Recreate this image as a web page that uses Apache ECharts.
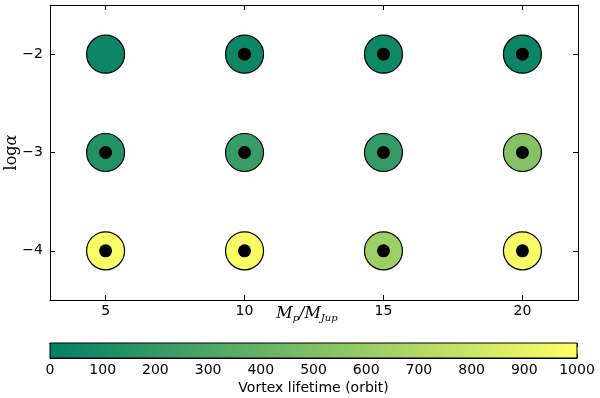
<!DOCTYPE html>
<html><head><meta charset="utf-8">
<script src="https://cdn.jsdelivr.net/npm/echarts@6/dist/echarts.min.js"></script>
<style>html,body{margin:0;padding:0;background:#fff}#c{width:600px;height:398px}</style>
</head><body><div id="c"></div>
<script>
const masses = [5, 10, 15, 20];
const logAlphas = [-2, -3, -4];
// lifetime (orbits) rows by logAlpha, columns by mass
const lifetimeAm2 = [40, 50, 60, 40];
const lifetimeAm3 = [130, 220, 200, 520];
const lifetimeAm4 = [980, 980, 620, 970];
// black dot marker present?
const dotAm2 = [0, 1, 1, 1];
const dotAm3 = [1, 1, 1, 1];
const dotAm4 = [1, 1, 1, 1];
const cbTicks = [0,100,200,300,400,500,600,700,800,900,1000];

const lifetimes = [lifetimeAm2, lifetimeAm3, lifetimeAm4];
const dots = [dotAm2, dotAm3, dotAm4];
const circles = [], dotPts = [];
logAlphas.forEach((a, i) => masses.forEach((m, j) => {
  circles.push([m, a, lifetimes[i][j]]);
  if (dots[i][j]) dotPts.push([m, a]);
}));

const font = 'DejaVu Sans';
const lab = {color:'#000', fontFamily:font, fontSize:14};
const tickIn = {show:true, inside:true, length:5, lineStyle:{color:'#000', width:1}};
const line = {show:true, onZero:false, lineStyle:{color:'#000', width:1}};

const chart = echarts.init(document.getElementById('c'), null, {renderer:'canvas'});
chart.setOption({
  animation:false,
  backgroundColor:'#fff',
  grid:[
    {left:50, right:22, top:5, bottom:98, show:false, outerBoundsMode:'none', containLabel:false},
    {left:50, right:23, top:343, height:15, show:false, outerBoundsMode:'none', containLabel:false}
  ],
  xAxis:[
    {gridIndex:0, type:'value', min:3, max:22, interval:5, position:'bottom',
     axisLine:line, splitLine:{show:false},
     axisLabel:Object.assign({margin:4, customValues:masses}, lab),
     axisTick:Object.assign({customValues:masses}, tickIn),
     name:'{i|M}{s|p}{i|/M}{s|Jup}', nameLocation:'middle', nameGap:4, nameMoveOverlap:false,
     nameTextStyle:{verticalAlign:'top', padding:[0,14,0,0], rich:{i:{fontFamily:'DejaVu Serif', fontStyle:'italic', fontSize:16, color:'#000'},
                          s:{fontFamily:'DejaVu Serif', fontStyle:'italic', fontSize:10, color:'#000', padding:[9,0,0,0]}}}},
    {gridIndex:0, type:'value', min:3, max:22, position:'top',
     axisLine:line, axisTick:Object.assign({customValues:masses}, tickIn),
     axisLabel:{show:false}, splitLine:{show:false}},
    {gridIndex:1, type:'value', min:0, max:1000, interval:100, position:'bottom',
     axisLine:line, axisTick:Object.assign({}, tickIn, {length:4}), splitLine:{show:false},
     axisLabel:Object.assign({margin:5, formatter:v=>String(v)}, lab),
     name:'Vortex lifetime (orbit)', nameLocation:'middle', nameGap:23, nameMoveOverlap:false,
     nameTextStyle:{color:'#000', fontFamily:font, fontSize:14}},
    {gridIndex:1, type:'value', min:0, max:1000, interval:100, position:'top',
     axisLine:line, axisTick:Object.assign({}, tickIn, {length:4}), axisLabel:{show:false}, splitLine:{show:false}}
  ],
  yAxis:[
    {gridIndex:0, type:'value', min:-4.5, max:-1.5, position:'left',
     axisLine:line, splitLine:{show:false},
     axisTick:Object.assign({customValues:logAlphas}, tickIn),
     axisLabel:Object.assign({margin:7, customValues:logAlphas, formatter:v=>String(v).replace('-','\u2212')}, lab),
     name:'{i|log}{g|α}', nameLocation:'middle', nameGap:30, nameRotate:90, nameMoveOverlap:false,
     nameTextStyle:{rich:{i:{fontFamily:'DejaVu Serif', fontSize:16, color:'#000'},
                          g:{fontFamily:'DejaVu Serif', fontStyle:'italic', fontSize:16, color:'#000'}}}},
    {gridIndex:0, type:'value', min:-4.5, max:-1.5, position:'right',
     axisLine:line, splitLine:{show:false},
     axisTick:Object.assign({customValues:logAlphas}, tickIn), axisLabel:{show:false}},
    {gridIndex:1, type:'value', min:0, max:1, show:false}
  ],
  visualMap:{show:false, type:'continuous', min:0, max:1000, dimension:2, seriesIndex:0,
    inRange:{color:['#008066','#ffff66']}},
  series:[
    {type:'scatter', xAxisIndex:0, yAxisIndex:0, data:circles, symbolSize:38,
     itemStyle:{borderColor:'#000', borderWidth:1.2, opacity:1}, z:2},
    {type:'scatter', xAxisIndex:0, yAxisIndex:0, data:dotPts, symbolSize:13,
     itemStyle:{color:'#000', opacity:1}, z:3},
    {type:'custom', xAxisIndex:2, yAxisIndex:2, data:[[cbTicks[0], cbTicks[cbTicks.length-1]]], z:1,
     renderItem:(params, api) => {
       const p0 = api.coord([api.value(0), 0]);
       const p1 = api.coord([api.value(1), 1]);
       return {type:'rect', shape:{x:p0[0], y:p1[1], width:p1[0]-p0[0], height:p0[1]-p1[1]},
         style:{fill:new echarts.graphic.LinearGradient(0,0,1,0,[{offset:0,color:'#008066'},{offset:1,color:'#ffff66'}]),
                stroke:'#000', lineWidth:1}};
     }}
  ]
});
</script></body></html>
